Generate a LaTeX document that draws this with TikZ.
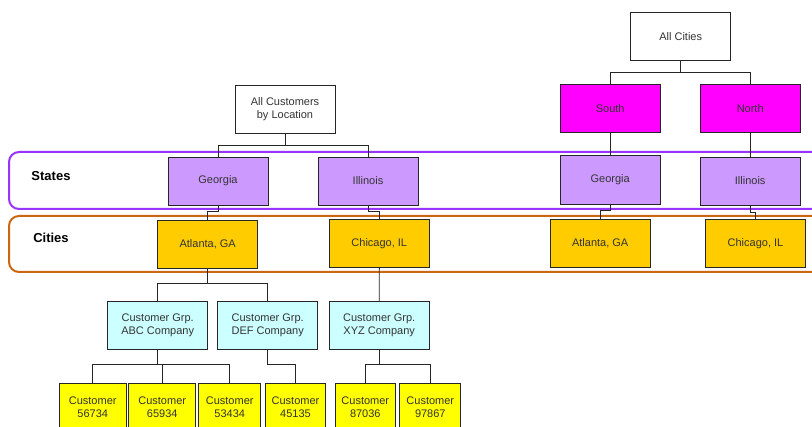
\documentclass[tikz,border=0pt]{standalone}
\usepackage{fontspec}
\setmainfont{Liberation Sans}
\begin{document}
\begin{tikzpicture}[x=1pt,y=-1pt,
  box/.style={draw=black!85,line width=0.9pt,minimum width=100pt,minimum height=48pt,inner sep=0pt,
    font=\fontsize{11}{13}\selectfont,text=black!80,align=center},
  state/.style={box,fill=stateC},
  city/.style={box,fill=cityC},
  grp/.style={box,fill=grpC},
  region/.style={box,fill=regionC},
  cust/.style={box,fill=custC,minimum height=48pt},
  conn/.style={draw=black!85,line width=0.9pt},
  band/.style={line width=2pt,rounded corners=10pt},
  bandlabel/.style={font=\fontsize{13}{15}\selectfont\bfseries,text=black}
]
\definecolor{stateC}{HTML}{CC99FF}
\definecolor{cityC}{HTML}{FFCC00}
\definecolor{grpC}{HTML}{CCFFFF}
\definecolor{regionC}{HTML}{FF00FF}
\definecolor{custC}{HTML}{FFFF00}
\definecolor{bandP}{HTML}{9933FF}
\definecolor{bandO}{HTML}{CC6611}
\useasboundingbox (0,0) rectangle (812,427);
\fill[white] (0,0) rectangle (812,427);

% bands
\draw[band,draw=bandP] (9,152) rectangle (840,209);
\draw[band,draw=bandO] (9,216) rectangle (840,272);
\node[bandlabel] (lblS) at (51,176) {States};
\node[bandlabel] (lblC) at (51,238) {Cities};

% left tree
\node[box] (allL) at (285,109) {All Customers\\by Location};
\node[state] (gaL) at (218,181) {Georgia};
\node[state] (ilL) at (368,181) {Illinois};
\node[city] (atL) at (207.7,244.7) {Atlanta, GA};
\node[city] (chL) at (379.3,243.7) {Chicago, IL};
\node[grp] (abc) at (157.7,325.5) {Customer Grp.\\ABC Company};
\node[grp] (def) at (267.7,325.5) {Customer Grp.\\DEF Company};
\node[grp] (xyz) at (379.2,325.5) {Customer Grp.\\XYZ Company};
\node[cust,minimum width=67pt] (c1) at (92.7,407) {Customer\\56734};
\node[cust,minimum width=67pt] (c2) at (162.2,407) {Customer\\65934};
\node[cust,minimum width=62pt] (c3) at (229.7,407) {Customer\\53434};
\node[cust,minimum width=60pt] (c4) at (295.5,407) {Customer\\45135};
\node[cust,minimum width=60pt] (c5) at (365.3,407) {Customer\\87036};
\node[cust,minimum width=61pt] (c6) at (430.3,407) {Customer\\97867};

\draw[conn] (allL.south) -- ++(0,12) -| (gaL.north);
\draw[conn] (allL.south) -- ++(0,12) -| (ilL.north);
\draw[conn] (gaL.south) -- ++(0,6) -| (atL.north);
\draw[conn] (ilL.south) -- ++(0,6.5) -| (chL.north);
\draw[conn] (atL.south) -- ++(0,14) -| (abc.north);
\draw[conn] (atL.south) -- ++(0,14) -| (def.north);
\draw[conn] (chL.south) -- (xyz.north);
\draw[conn] (abc.south) -- ++(0,15) -| (c1.north);
\draw[conn] (abc.south) -- ++(0,15) -| (c2.north);
\draw[conn] (abc.south) -- ++(0,15) -| (c3.north);
\draw[conn] (def.south) -- ++(0,15) -| (c4.north);
\draw[conn] (xyz.south) -- ++(0,15) -| (c5.north);
\draw[conn] (xyz.south) -- ++(0,15) -| (c6.north);

% right tree
\node[box] (allC) at (680.7,36.5) {All Cities};
\node[region] (south) at (610.2,108.5) {South};
\node[region] (north) at (750.2,108.5) {North};
\node[state,minimum height=49pt] (gaR) at (610.2,179.5) {Georgia};
\node[state] (ilR) at (750.2,181) {Illinois};
\node[city] (atR) at (600.2,243.3) {Atlanta, GA};
\node[city] (chR) at (755.5,243.5) {Chicago, IL};

\draw[conn] (allC.south) -- ++(0,12) -| (south.north);
\draw[conn] (allC.south) -- ++(0,12) -| (north.north);
\draw[conn] (south.south) -- (gaR.north);
\draw[conn] (north.south) -- (ilR.north);
\draw[conn] (gaR.south) -- ++(0,6) -| (atR.north);
\draw[conn] (ilR.south) -- ++(0,7) -| (chR.north);
\end{tikzpicture}
\end{document}
